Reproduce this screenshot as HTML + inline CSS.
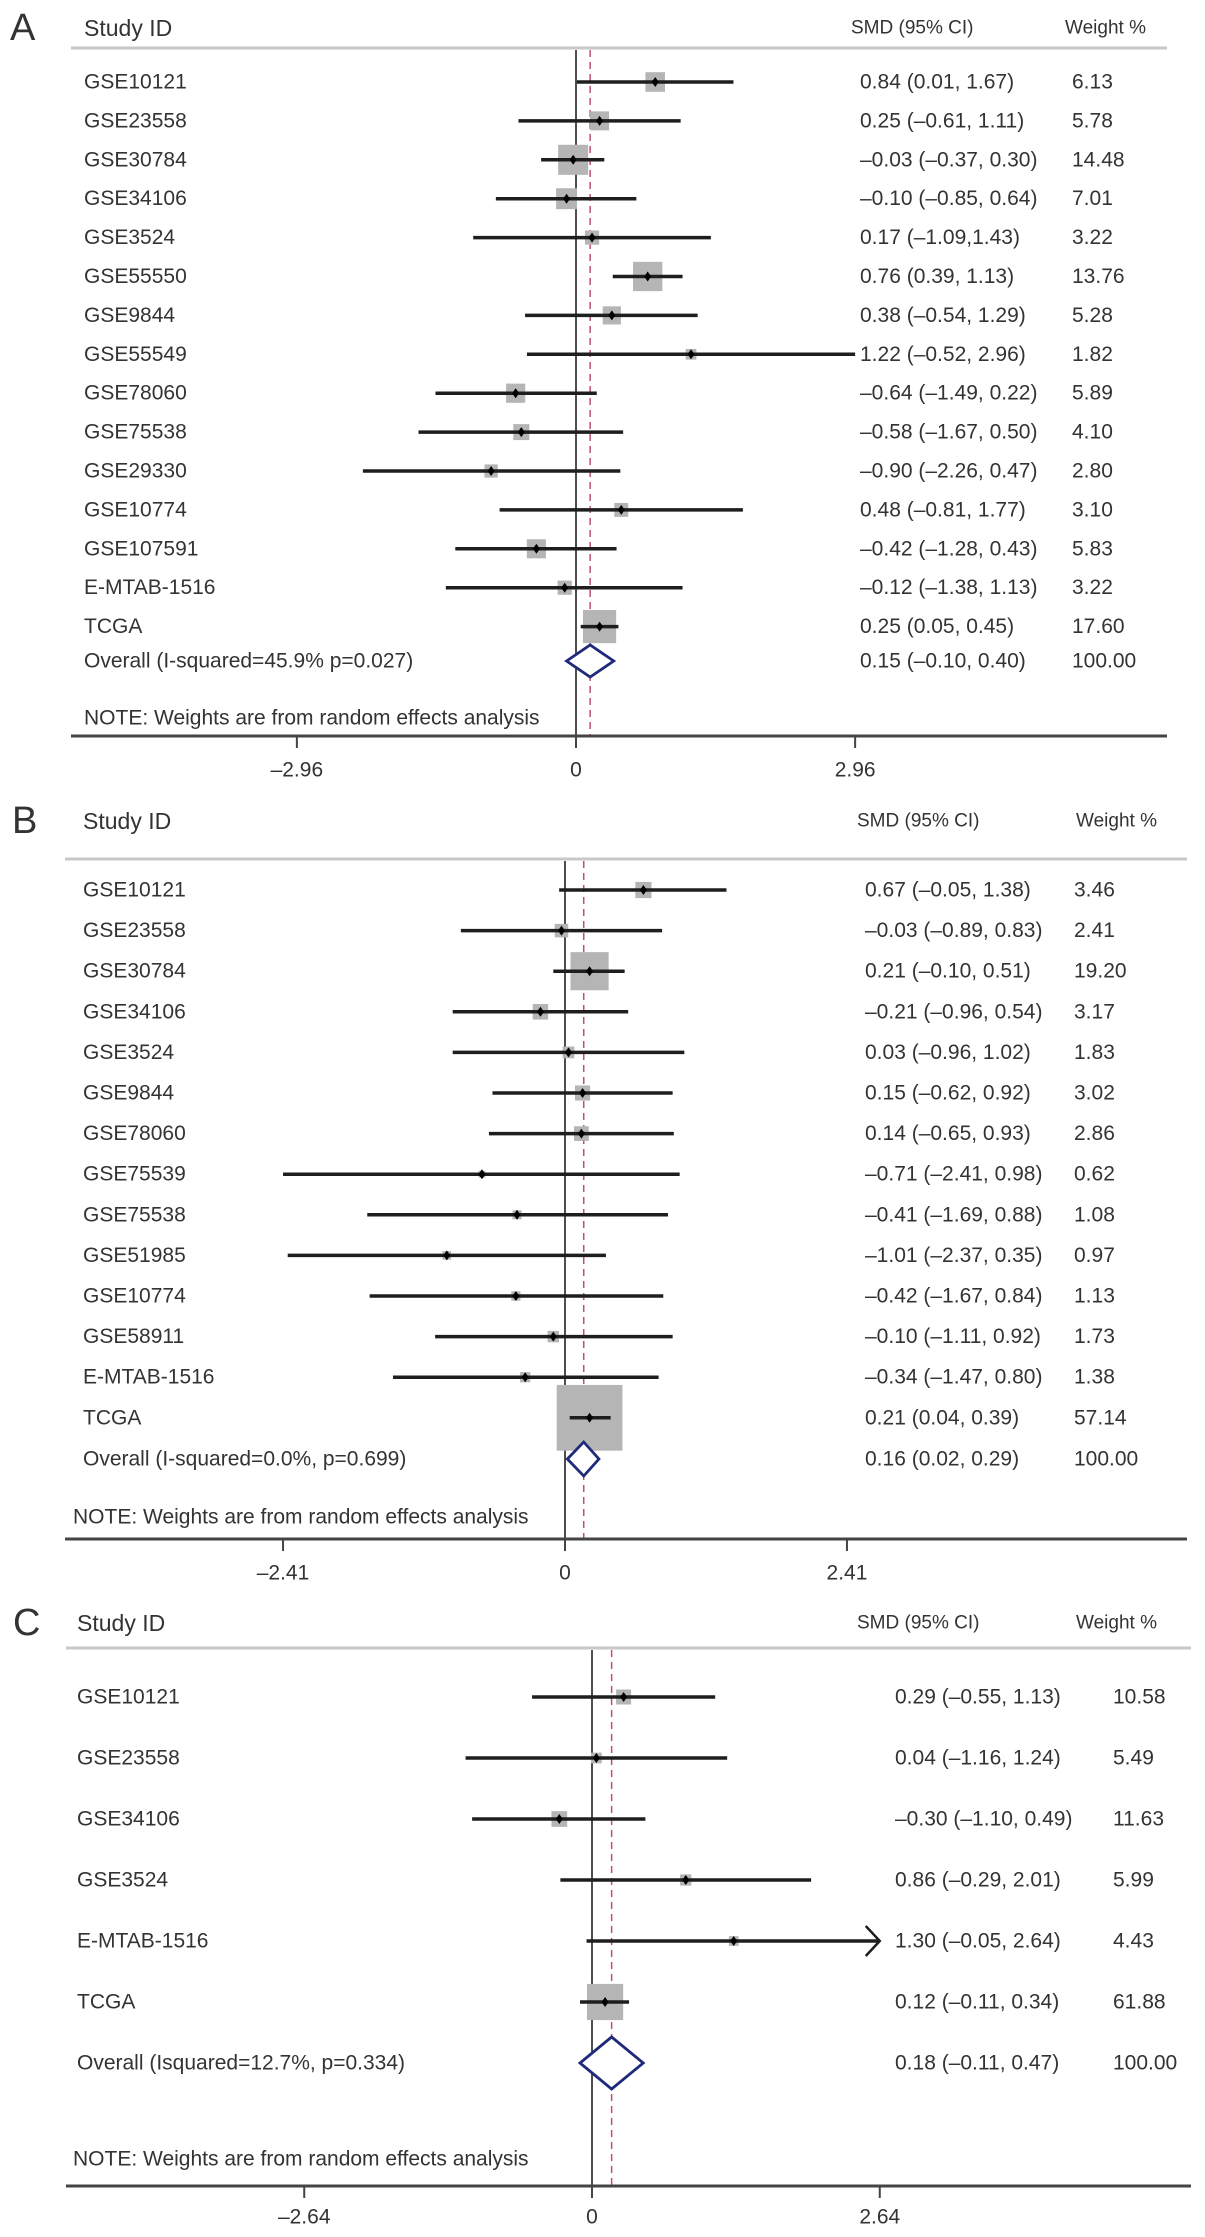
<!DOCTYPE html>
<html><head><meta charset="utf-8"><style>
html,body{margin:0;padding:0;background:#fff}
svg{display:block}
text{font-family:"Liberation Sans",Arial,sans-serif;fill:#333}
</style></head><body>
<svg id="fig" width="1205" height="2237" viewBox="0 0 1205 2237" xmlns="http://www.w3.org/2000/svg"></svg>
<script>
// ---------- Panel A data ----------
const studiesA = ["GSE10121","GSE23558","GSE30784","GSE34106","GSE3524","GSE55550","GSE9844","GSE55549","GSE78060","GSE75538","GSE29330","GSE10774","GSE107591","E-MTAB-1516","TCGA"];
const esA   = [0.84,0.25,-0.03,-0.10,0.17,0.76,0.38,1.22,-0.64,-0.58,-0.90,0.48,-0.42,-0.12,0.25];
const lowA  = [0.01,-0.61,-0.37,-0.85,-1.09,0.39,-0.54,-0.52,-1.49,-1.67,-2.26,-0.81,-1.28,-1.38,0.05];
const highA = [1.67,1.11,0.30,0.64,1.43,1.13,1.29,2.96,0.22,0.50,0.47,1.77,0.43,1.13,0.45];
const wtA   = [6.13,5.78,14.48,7.01,3.22,13.76,5.28,1.82,5.89,4.10,2.80,3.10,5.83,3.22,17.60];
const ciTextA = ["0.84 (0.01, 1.67)","0.25 (–0.61, 1.11)","–0.03 (–0.37, 0.30)","–0.10 (–0.85, 0.64)","0.17 (–1.09,1.43)","0.76 (0.39, 1.13)","0.38 (–0.54, 1.29)","1.22 (–0.52, 2.96)","–0.64 (–1.49, 0.22)","–0.58 (–1.67, 0.50)","–0.90 (–2.26, 0.47)","0.48 (–0.81, 1.77)","–0.42 (–1.28, 0.43)","–0.12 (–1.38, 1.13)","0.25 (0.05, 0.45)"];
const wtTextA = ["6.13","5.78","14.48","7.01","3.22","13.76","5.28","1.82","5.89","4.10","2.80","3.10","5.83","3.22","17.60"];
const overallA = [0.15,-0.10,0.40];
const overallLabelA = "Overall (I-squared=45.9% p=0.027)";
const overallTextA = "0.15 (–0.10, 0.40)";
const ticksA = [-2.96,0,2.96];
const tickLabelsA = ["–2.96","0","2.96"];

// ---------- Panel B data ----------
const studiesB = ["GSE10121","GSE23558","GSE30784","GSE34106","GSE3524","GSE9844","GSE78060","GSE75539","GSE75538","GSE51985","GSE10774","GSE58911","E-MTAB-1516","TCGA"];
const esB   = [0.67,-0.03,0.21,-0.21,0.03,0.15,0.14,-0.71,-0.41,-1.01,-0.42,-0.10,-0.34,0.21];
const lowB  = [-0.05,-0.89,-0.10,-0.96,-0.96,-0.62,-0.65,-2.41,-1.69,-2.37,-1.67,-1.11,-1.47,0.04];
const highB = [1.38,0.83,0.51,0.54,1.02,0.92,0.93,0.98,0.88,0.35,0.84,0.92,0.80,0.39];
const wtB   = [3.46,2.41,19.20,3.17,1.83,3.02,2.86,0.62,1.08,0.97,1.13,1.73,1.38,57.14];
const ciTextB = ["0.67 (–0.05, 1.38)","–0.03 (–0.89, 0.83)","0.21 (–0.10, 0.51)","–0.21 (–0.96, 0.54)","0.03 (–0.96, 1.02)","0.15 (–0.62, 0.92)","0.14 (–0.65, 0.93)","–0.71 (–2.41, 0.98)","–0.41 (–1.69, 0.88)","–1.01 (–2.37, 0.35)","–0.42 (–1.67, 0.84)","–0.10 (–1.11, 0.92)","–0.34 (–1.47, 0.80)","0.21 (0.04, 0.39)"];
const wtTextB = ["3.46","2.41","19.20","3.17","1.83","3.02","2.86","0.62","1.08","0.97","1.13","1.73","1.38","57.14"];
const overallB = [0.16,0.02,0.29];
const overallLabelB = "Overall (I-squared=0.0%, p=0.699)";
const overallTextB = "0.16 (0.02, 0.29)";
const ticksB = [-2.41,0,2.41];
const tickLabelsB = ["–2.41","0","2.41"];

// ---------- Panel C data ----------
const studiesC = ["GSE10121","GSE23558","GSE34106","GSE3524","E-MTAB-1516","TCGA"];
const esC   = [0.29,0.04,-0.30,0.86,1.30,0.12];
const lowC  = [-0.55,-1.16,-1.10,-0.29,-0.05,-0.11];
const highC = [1.13,1.24,0.49,2.01,2.64,0.34];
const wtC   = [10.58,5.49,11.63,5.99,4.43,61.88];
const ciTextC = ["0.29 (–0.55, 1.13)","0.04 (–1.16, 1.24)","–0.30 (–1.10, 0.49)","0.86 (–0.29, 2.01)","1.30 (–0.05, 2.64)","0.12 (–0.11, 0.34)"];
const wtTextC = ["10.58","5.49","11.63","5.99","4.43","61.88"];
const overallC = [0.18,-0.11,0.47];
const overallLabelC = "Overall (Isquared=12.7%, p=0.334)";
const overallTextC = "0.18 (–0.11, 0.47)";
const ticksC = [-2.64,0,2.64];
const tickLabelsC = ["–2.64","0","2.64"];

const NS = "http://www.w3.org/2000/svg";
const svg = document.getElementById('fig');
function mk(tag, attrs, parent){
  const e = document.createElementNS(NS, tag);
  for (const k in attrs) e.setAttribute(k, attrs[k]);
  (parent||svg).appendChild(e);
  return e;
}
function txt(parent, x, y, s, size, anchor){
  const t = mk('text', {x:x, y:y, 'font-size':size, 'dominant-baseline':'central', 'text-anchor':anchor||'start'}, parent);
  t.textContent = s;
  return t;
}

function panel(letter, studies, es, low, high, wt, ciText, wtText, overall, overallLabel, overallText, ticks, tickLabels, g){
  const grp = mk('g', {});
  
  
  const xs = v => g.zero + v * g.ppu;
  const ys = i => g.row0 + i * g.sp;
  const maxX = ticks[ticks.length-1];

  let t = txt(grp, g.letterX, g.headY, letter, 38);
   
  t = txt(grp, g.labelX, g.headY, 'Study ID', 23);
   
  t = txt(grp, g.smdHX, g.headY, 'SMD (95% CI)', 19);
   
  t = txt(grp, g.wHX, g.headY, 'Weight %', 19);
   

  let l = mk('line', {x1:g.ax0, x2:g.ax1, y1:g.hline, y2:g.hline, stroke:'#c8c8c8', 'stroke-width':3}, grp);
   

  // null line
  l = mk('line', {x1:xs(0), x2:xs(0), y1:g.hline+2, y2:g.axisY, stroke:'#222', 'stroke-width':1.6}, grp);
   
  // overall dashed
  l = mk('line', {x1:xs(overall[0]), x2:xs(overall[0]), y1:g.hline+2, y2:g.axisY, stroke:'#c0506a', 'stroke-width':1.5, 'stroke-dasharray':'7,5'}, grp);
   

  studies.forEach((s, i) => {
    const y = ys(i);
    const row = mk('g', {}, grp);
    
    
    const sz = g.k * Math.sqrt(wt[i]);
    const b = mk('rect', {x:xs(es[i]) - sz/2, y:y - sz/2, width:sz, height:sz, fill:'#b5b5b5'}, row);
     
    const hiClip = Math.min(high[i], maxX);
    const c = mk('line', {x1:xs(low[i]), x2:xs(hiClip), y1:y, y2:y, stroke:'#1e1e1e', 'stroke-width':3.5}, row);
     
    if (high[i] >= maxX && g.arrow){
      const ax = xs(maxX);
      const a = mk('polyline', {points:(ax-14)+','+(y-15)+' '+ax+','+y+' '+(ax-14)+','+(y+15), fill:'none', stroke:'#1e1e1e', 'stroke-width':2.5}, row);
       
    }
    const px = xs(es[i]);
    const p = mk('polygon', {points:px+','+(y-5)+' '+(px+3.5)+','+y+' '+px+','+(y+5)+' '+(px-3.5)+','+y, fill:'#000'}, row);
     
    let tt = txt(row, g.labelX, y, s, 21);
     
    tt = txt(row, g.valX, y, ciText[i], 21);
     
    tt = txt(row, g.wX, y, wtText[i], 21);
     
  });

  const oy = g.overallY;
  const d = mk('polygon', {points:xs(overall[1])+','+oy+' '+xs(overall[0])+','+(oy-g.dh)+' '+xs(overall[2])+','+oy+' '+xs(overall[0])+','+(oy+g.dh), fill:'#fff', stroke:'#1f2a7a', 'stroke-width':2.8}, grp);
   
  t = txt(grp, g.labelX, oy, overallLabel, 21);
   
  t = txt(grp, g.valX, oy, overallText, 21);
   
  t = txt(grp, g.wX, oy, '100.00', 21);
   
  t = txt(grp, g.noteX, g.noteY, 'NOTE: Weights are from random effects analysis', 21);
   

  l = mk('line', {x1:g.ax0, x2:g.ax1, y1:g.axisY, y2:g.axisY, stroke:'#444', 'stroke-width':3}, grp);
   
  ticks.forEach((v, i) => {
    const tk = mk('line', {x1:xs(v), x2:xs(v), y1:g.axisY, y2:g.axisY+12, stroke:'#444', 'stroke-width':2}, grp);
     
    const tl = txt(grp, xs(v), g.tickY, tickLabels[i], 21, 'middle');
     
  });
}

panel('A', studiesA, esA, lowA, highA, wtA, ciTextA, wtTextA, overallA, overallLabelA, overallTextA, ticksA, tickLabelsA,
  {zero:576, ppu:94.3, row0:82, sp:38.9, overallY:661, noteY:718, axisY:736, tickY:770, ax0:71, ax1:1167, hline:48, headY:28,
   letterX:10, labelX:84, noteX:84, smdHX:851, wHX:1065, valX:860, wX:1072, k:7.9, dh:16, arrow:false});
panel('B', studiesB, esB, lowB, highB, wtB, ciTextB, wtTextB, overallB, overallLabelB, overallTextB, ticksB, tickLabelsB,
  {zero:565, ppu:117, row0:890, sp:40.6, overallY:1459, noteY:1517, axisY:1539, tickY:1573, ax0:65, ax1:1187, hline:859, headY:821,
   letterX:12, labelX:83, noteX:73, smdHX:857, wHX:1076, valX:865, wX:1074, k:8.7, dh:17, arrow:false});
panel('C', studiesC, esC, lowC, highC, wtC, ciTextC, wtTextC, overallC, overallLabelC, overallTextC, ticksC, tickLabelsC,
  {zero:592, ppu:109, row0:1697, sp:61, overallY:2063, noteY:2159, axisY:2186, tickY:2217, ax0:66, ax1:1191, hline:1648, headY:1623,
   letterX:13, labelX:77, noteX:73, smdHX:857, wHX:1076, valX:895, wX:1113, k:4.6, dh:26, arrow:true});
</script>
</body></html>
